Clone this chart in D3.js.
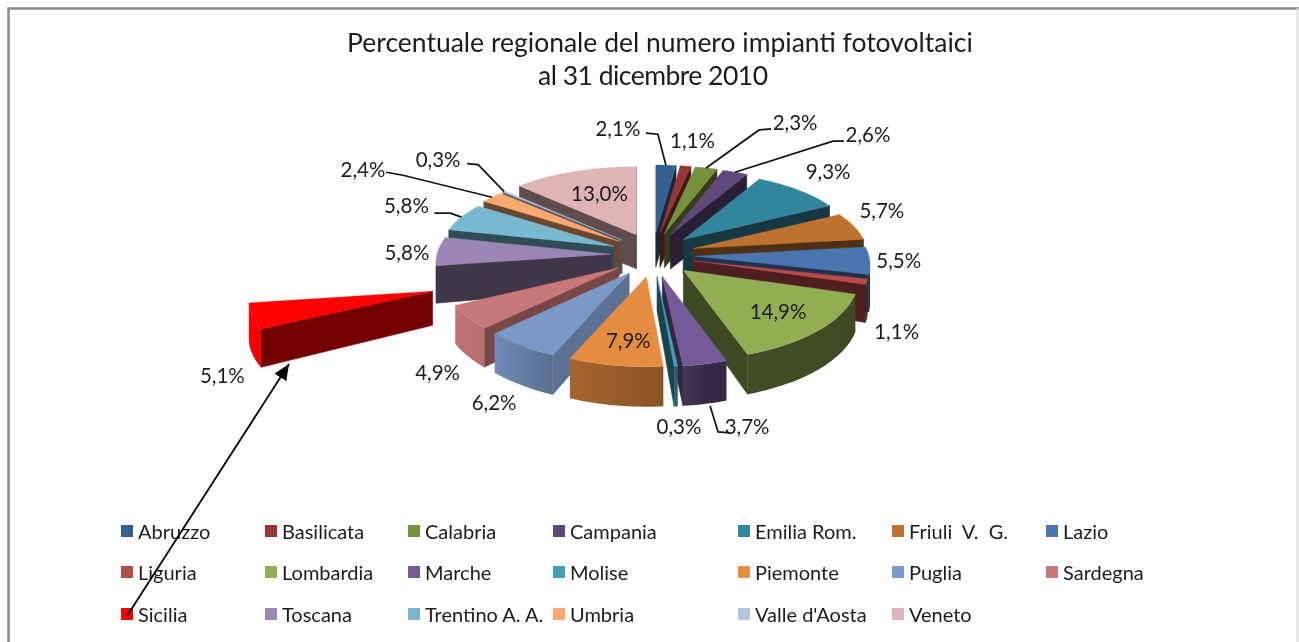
<!DOCTYPE html>
<html><head><meta charset="utf-8">
<script src="https://d3js.org/d3.v7.min.js"></script>
<style>
html,body{margin:0;padding:0;background:#fff;overflow:hidden}
svg{display:block;filter:blur(.35px)}
text{font-family:Lato,"Open Sans",sans-serif;fill:#1c1c1c}
</style></head><body><svg id="c" width="1299" height="642"></svg>
<script>
const regions=["Abruzzo","Basilicata","Calabria","Campania","Emilia Rom.","Friuli  V.  G.","Lazio","Liguria","Lombardia","Marche","Molise","Piemonte","Puglia","Sardegna","Sicilia","Toscana","Trentino A. A.","Umbria","Valle d'Aosta","Veneto"];
const percent=[2.1,1.1,2.3,2.6,9.3,5.7,5.5,1.1,14.9,3.7,0.3,7.9,6.2,4.9,5.1,5.8,5.8,2.4,0.3,13.0];
const colours=["#376092","#953735","#76923C","#5F497A","#31859C","#BE722F","#4A76B0","#B84A48","#91AE53","#745A99","#40A0B8","#E68C40","#7A99C8","#C87878","#FF0000","#9C86B6","#78B8D0","#FAA870","#B5C3DE","#E0B4B4"];
const titleLines=["Percentuale regionale del numero impianti fotovoltaici","al 31 dicembre 2010"];

/* layout, not data */
const labelOffset=[[-48,-37],[7,-26],[89,-46],[133,-38],[30,-19],[28,-16],[29,0],[30,49],[-41,-19],[42,62],[3,60],[13,-25],[-27,56],[-30,55],[-30,59],[-31,1],[-55,-12],[-129,-28],[-66,-33],[25,21]];
const leaderOffset={"Abruzzo":[[28,5],[40,6]],"Calabria":[[-24,7],[-36,8]],"Campania":[[-24,7],[-35,7]],"Marche":[[-17,7],[-29,6]],"Umbria":[[23,3],[40,6]],"Valle d'Aosta":[[29,5],[40,6]],"Trentino A. A.":[[28,8],[44,8]]};
const legendCols=[121,265,408,553,738,892,1046], legendRows=[531,572,614];
const cx=653, cy=255, explodeX=42, explodeY=22, sicilyExplode=5.5, sicilyScale=1.05;

const svg=d3.select("#c");
const deg=r=>r*180/Math.PI;
const arcs=d3.pie().sort(null).value(d=>d)(percent);

/* Tilted 3D projection: the far side is smaller than the near side */
function projRadius(a){return [Math.sin(a)*(174-20*Math.cos(a)),-Math.cos(a)*(79-11*Math.cos(a))];}
function apexOf(i,mid){
  const e=regions[i]==="Sicilia"?sicilyExplode:1;
  return [cx+explodeX*e*Math.sin(mid),cy-explodeY*e*Math.cos(mid)];
}
function rimPoint(i,a,mid){
  const ap=apexOf(i,mid),r=projRadius(a),s=regions[i]==="Sicilia"?sicilyScale:1;
  return [ap[0]+r[0]*s,ap[1]+r[1]];
}
const depthAt=a=>37-3*Math.cos(a);

const outerShade=d3.scaleLinear().domain([0,100,165,175,203,226,243,290,360]).range([.42,.42,.45,.6,.72,.92,.95,1,1]).clamp(true);
const radialLeftShade=d3.scaleLinear().domain([180,203,226,243,262,360]).range([.78,.75,.6,.45,.4,.45]);
function shade(c,f){const k=d3.rgb(c);return d3.rgb(k.r*f,k.g*f,k.b*f).formatHex();}

const line=d3.line();
const defs=svg.append("defs");
const pieG=svg.append("g");
const order=d3.range(arcs.length).sort((p,q)=>{
  const m=d=>(d.startAngle+d.endAngle)/2;
  return -Math.cos(m(arcs[p]))+Math.cos(m(arcs[q]));
});
order.forEach(i=>{
  const d=arcs[i],mid=(d.startAngle+d.endAngle)/2,col=colours[i];
  const ap=apexOf(i,mid);
  const n=Math.max(2,Math.ceil(deg(d.endAngle-d.startAngle)/1.5));
  const angles=d3.range(n+1).map(k=>d.startAngle+(d.endAngle-d.startAngle)*k/n);
  const rim=angles.map(a=>rimPoint(i,a,mid));
  const g=pieG.append("g").attr("class","slice");
  const wall=(p,q,dp,dq,fill)=>g.append("path")
     .attr("d",line([p,q,[q[0],q[1]+dq],[p[0],p[1]+dp]])+"Z")
     .attr("fill",fill).attr("stroke",fill).attr("stroke-width",.6);
  const d0=depthAt(0);
  if(rim[0][0]<ap[0]) wall(ap,rim[0],d0,depthAt(d.startAngle),shade(col,radialLeftShade(deg(d.startAngle))));
  if(rim[n][0]>ap[0]) wall(rim[n],ap,depthAt(d.endAngle),d0,shade(col,.42));
  // outer curved wall: visible rim steps joined into one path, shaded with a horizontal gradient
  const vis=d3.range(n+1).filter(k=>(k<n&&rim[k+1][0]<rim[k][0])||(k>0&&rim[k][0]<rim[k-1][0]));
  if(vis.length>1){
    const top=vis.map(k=>rim[k]), bottom=vis.map(k=>[rim[k][0],rim[k][1]+depthAt(angles[k])]).reverse();
    const x0=top[0][0],x1=top[top.length-1][0],id="w"+i;
    const lg=defs.append("linearGradient").attr("id",id).attr("gradientUnits","userSpaceOnUse").attr("x1",x0).attr("x2",x1).attr("y1",0).attr("y2",0);
    vis.forEach(k=>lg.append("stop").attr("offset",(rim[k][0]-x0)/(x1-x0)).attr("stop-color",shade(col,outerShade(deg(angles[k])))));
    g.append("path").attr("d",line([...top,...bottom])+"Z").attr("fill",`url(#${id})`);
  }
  g.append("path").attr("d",line([ap,...rim])+"Z").attr("fill",col).attr("stroke",col).attr("stroke-width",.4);
});

/* data labels and leaders */
const lblG=svg.append("g");
arcs.forEach((d,i)=>{
  const mid=(d.startAngle+d.endAngle)/2, p=rimPoint(i,mid,mid), off=labelOffset[i];
  const lx=p[0]+off[0], ly=p[1]+off[1], name=regions[i];
  const lo=leaderOffset[name];
  if(lo){
    const anchor=name==="Marche"?[p[0]+5,p[1]+depthAt(mid)+2]:p;
    lblG.append("path").attr("fill","none").attr("stroke","#111").attr("stroke-width",1.7)
      .attr("d",line([[lx+lo[0][0],ly+lo[0][1]],[lx+lo[1][0],ly+lo[1][1]],anchor]));
  }
  lblG.append("text").attr("x",lx).attr("y",ly).attr("text-anchor","middle").attr("dominant-baseline","central")
    .attr("font-size",20.5).text(percent[i].toFixed(1).replace(".",",")+"%");
});

/* frame */
const frame=svg.append("g");
frame.append("path").attr("d","M8.5,642V8.5H1299").attr("fill","none").attr("stroke","#8c8c8c").attr("stroke-width",2.6);
frame.append("path").attr("d","M1297.5,8V642").attr("fill","none").attr("stroke","#dcdcdc").attr("stroke-width",2);

/* title */
svg.append("text").attr("x",660).attr("y",42).attr("text-anchor","middle").attr("dominant-baseline","central").attr("font-size",26.5).attr("fill","#1a1a1a").text(titleLines[0]);
svg.append("text").attr("x",653).attr("y",75).attr("text-anchor","middle").attr("dominant-baseline","central").attr("font-size",26.5).attr("fill","#1a1a1a").attr("textLength",230).attr("lengthAdjust","spacing").text(titleLines[1]);

/* legend */
const legend=svg.append("g");
regions.forEach((r,i)=>{
  const col=i%7,row=Math.floor(i/7),x=legendCols[col],y=legendRows[row];
  legend.append("rect").attr("x",x).attr("y",y-6).attr("width",12).attr("height",12).attr("fill",colours[i]);
  legend.append("text").attr("x",x+17).attr("y",y).attr("dominant-baseline","central").attr("font-size",20).style("white-space","pre").text(r);
});

/* arrow */
const ax=[127,289],ay=[616,364];
defs.append("marker").attr("id","ah").attr("markerUnits","userSpaceOnUse").attr("markerWidth",18).attr("markerHeight",18).attr("refX",16).attr("refY",7).attr("orient","auto")
  .append("path").attr("d","M0,0L16,7L0,14Z").attr("fill","#000");
svg.append("line").attr("x1",ax[0]).attr("y1",ay[0]).attr("x2",ax[1]).attr("y2",ay[1]).attr("stroke","#000").attr("stroke-width",1.8).attr("marker-end","url(#ah)");
</script></body></html>
